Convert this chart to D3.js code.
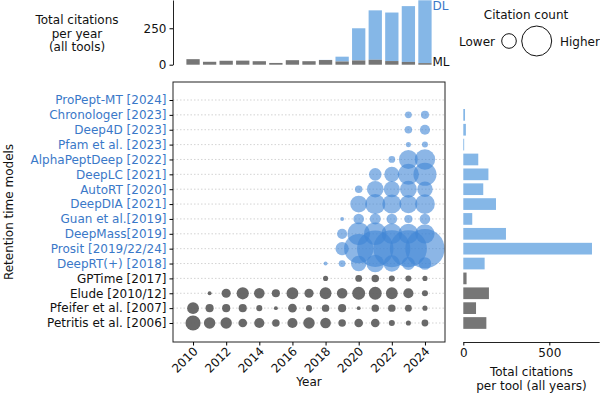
<!DOCTYPE html>
<html>
<head>
<meta charset="utf-8">
<script src="https://cdn.jsdelivr.net/npm/d3@7"></script>
<style>
  body { margin: 0; background: #fff; }
  text { font-family: "DejaVu Sans", sans-serif; }
</style>
</head>
<body>
<div id="chart"></div>
<script>
// years on the x axis
const years = [2010, 2011, 2012, 2013, 2014, 2015, 2016, 2017, 2018, 2019, 2020, 2021, 2022, 2023, 2024];
const yearTicks = [2010, 2012, 2014, 2016, 2018, 2020, 2022, 2024];

// models, top to bottom, and whether they are deep learning (DL) or classic ML
const models = [
  "ProPept-MT [2024]", "Chronologer [2023]", "Deep4D [2023]", "Pfam et al. [2023]",
  "AlphaPeptDeep [2022]", "DeepLC [2021]", "AutoRT [2020]", "DeepDIA [2021]",
  "Guan et al.[2019]", "DeepMass[2019]", "Prosit [2019/22/24]", "DeepRT(+) [2018]",
  "GPTime [2017]", "Elude [2010/12]", "Pfeifer et al. [2007]", "Petritis et al. [2006]"
];
const modelType = ["DL", "DL", "DL", "DL", "DL", "DL", "DL", "DL", "DL", "DL", "DL", "DL", "ML", "ML", "ML", "ML"];

// citations per year (2010..2024), one array per model, same order as models
const citations = [
  [0, 0, 0, 0, 0, 0, 0, 0, 0, 0, 0, 0, 0, 0, 0],
  [0, 0, 0, 0, 0, 0, 0, 0, 0, 0, 0, 0, 0, 4, 6],
  [0, 0, 0, 0, 0, 0, 0, 0, 0, 0, 0, 0, 0, 5, 10],
  [0, 0, 0, 0, 0, 0, 0, 0, 0, 0, 0, 0, 0, 2, 3],
  [0, 0, 0, 0, 0, 0, 0, 0, 0, 0, 0, 0, 4, 38, 45],
  [0, 0, 0, 0, 0, 0, 0, 0, 0, 0, 0, 16, 24, 48, 58],
  [0, 0, 0, 0, 0, 0, 0, 0, 0, 0, 5, 29, 27, 30, 25],
  [0, 0, 0, 0, 0, 0, 0, 0, 0, 0, 30, 44, 39, 35, 42],
  [0, 0, 0, 0, 0, 0, 0, 0, 0, 1, 11, 12, 11, 6, 11],
  [0, 0, 0, 0, 0, 0, 0, 0, 0, 10, 55, 55, 45, 43, 40],
  [0, 0, 0, 0, 0, 0, 0, 0, 0, 18, 95, 150, 155, 155, 175],
  [0, 0, 0, 0, 0, 0, 0, 0, 1, 4, 25, 33, 28, 17, 16],
  [0, 0, 0, 0, 0, 0, 0, 0, 2, 0, 4, 5, 3, 3, 2],
  [0, 1, 8, 15, 11, 6, 14, 8, 14, 11, 17, 17, 14, 10, 3],
  [14, 6, 6, 6, 3, 1, 7, 3, 5, 6, 1, 5, 5, 4, 2],
  [24, 13, 13, 7, 10, 5, 10, 13, 11, 5, 7, 7, 3, 2, 4]
];

// legend sizes (lower / higher)
const legendValues = [22, 100];

const width = 600, height = 397;
const blue = "#3f86d6", gray = "#5c5c5c";
const blueBar = "#85b7e7", grayBar = "#767676";
const labelBlue = "#3a78c8";
const fs = "12px";

const svg = d3.select("#chart").append("svg")
    .attr("width", width)
    .attr("height", height)
    .style("font-family", "DejaVu Sans, sans-serif")
    .style("font-size", fs);

// main panel geometry
const main = { left: 173, right: 445, top: 82, bottom: 342 };

const x = d3.scaleLinear()
    .domain([2008.79, 2025.21])
    .range([main.left, main.right]);

const y = d3.scalePoint()
    .domain(models)
    .range([100, 323]);

const r = d3.scaleSqrt()
    .domain([0, 175])
    .range([0.5, 0.5 + Math.sqrt(2.1 * 175)]);

// flatten cells
const cells = [];
citations.forEach((row, i) => {
    row.forEach((v, j) => {
        if (v > 0) cells.push({ model: models[i], type: modelType[i], year: years[j], value: v });
    });
});

// grid lines
svg.append("g")
    .selectAll("line")
    .data(models)
    .enter().append("line")
    .attr("x1", main.left)
    .attr("x2", main.right)
    .attr("y1", d => y(d))
    .attr("y2", d => y(d))
    .attr("stroke", "#c8c8c8")
    .attr("stroke-width", 0.8)
    .attr("stroke-dasharray", "1.5,2");

svg.append("clipPath")
    .attr("id", "clip")
    .append("rect")
    .attr("x", main.left)
    .attr("y", main.top)
    .attr("width", main.right - main.left)
    .attr("height", main.bottom - main.top);

svg.append("g")
    .attr("clip-path", "url(#clip)")
    .selectAll("circle")
    .data(cells)
    .enter().append("circle")
    .attr("cx", d => x(d.year))
    .attr("cy", d => y(d.model))
    .attr("r", d => r(d.value))
    .attr("fill", d => d.type === "DL" ? blue : gray)
    .attr("fill-opacity", d => d.type === "DL" ? 0.6 : 0.92);

// frame
svg.append("rect")
    .attr("x", main.left)
    .attr("y", main.top)
    .attr("width", main.right - main.left)
    .attr("height", main.bottom - main.top)
    .attr("fill", "none")
    .attr("stroke", "#222")
    .attr("stroke-width", 1);

// left axis with model names
const yAxis = svg.append("g")
    .attr("transform", `translate(${main.left},0)`)
    .call(d3.axisLeft(y).tickSize(3.5).tickPadding(3));
yAxis.select(".domain").remove();
yAxis.selectAll("text")
    .style("font-size", fs)
    .attr("fill", (d, i) => modelType[i] === "DL" ? labelBlue : "#111");

// bottom axis with years
const xAxis = svg.append("g")
    .attr("transform", `translate(0,${main.bottom})`)
    .call(d3.axisBottom(x).tickValues(yearTicks).tickFormat(d3.format("d")).tickSize(3.5));
xAxis.select(".domain").remove();
xAxis.selectAll("text")
    .style("font-size", fs)
    .attr("fill", "#111")
    .attr("x", 0).attr("y", 0).attr("dy", 0)
    .attr("transform", "translate(5,10) rotate(-45)")
    .style("text-anchor", "end");

svg.append("text")
    .attr("x", (main.left + main.right) / 2)
    .attr("y", 386)
    .attr("text-anchor", "middle")
    .attr("fill", "#111")
    .text("Year");

svg.append("text")
    .attr("transform", "translate(13,212) rotate(-90)")
    .attr("text-anchor", "middle")
    .attr("fill", "#111")
    .text("Retention time models");

// top panel: citations per year, ML at bottom, DL stacked on top
const mlYear = years.map((yr, j) => d3.sum(citations.filter((c, i) => modelType[i] === "ML"), c => c[j]));
const dlYear = years.map((yr, j) => d3.sum(citations.filter((c, i) => modelType[i] === "DL"), c => c[j]));

const yTop = d3.scaleLinear()
    .domain([0, 444])
    .range([64.7, 0]);
const barW = 13.3;

svg.append("g")
    .selectAll("rect")
    .data(years)
    .enter().append("rect")
    .attr("x", d => x(d) - barW / 2)
    .attr("width", barW)
    .attr("y", (d, j) => yTop(mlYear[j] + dlYear[j]))
    .attr("height", (d, j) => yTop(mlYear[j]) - yTop(mlYear[j] + dlYear[j]))
    .attr("fill", blueBar);

svg.append("g")
    .selectAll("rect")
    .data(years)
    .enter().append("rect")
    .attr("x", d => x(d) - barW / 2)
    .attr("width", barW)
    .attr("y", (d, j) => yTop(mlYear[j]))
    .attr("height", (d, j) => yTop(0) - yTop(mlYear[j]))
    .attr("fill", grayBar);

const topAxis = svg.append("g")
    .attr("transform", `translate(${main.left},0)`)
    .call(d3.axisLeft(yTop).tickValues([0, 250]).tickSize(3.5).tickSizeOuter(0).tickPadding(3));
topAxis.select(".domain").attr("stroke", "#222");
topAxis.selectAll("text").style("font-size", fs).attr("fill", "#111");

svg.append("text")
    .attr("x", 432.5).attr("y", 10)
    .attr("fill", labelBlue)
    .text("DL");
svg.append("text")
    .attr("x", 432.5).attr("y", 66)
    .attr("fill", "#111")
    .text("ML");

const topTitle = svg.append("text")
    .attr("text-anchor", "middle")
    .attr("fill", "#111");
["Total citations", "per year", "(all tools)"].forEach((t, i) => {
    topTitle.append("tspan")
        .attr("x", 77)
        .attr("y", 24 + i * 13.5)
        .text(t);
});

// right panel: total citations per tool
const perTool = citations.map(c => d3.sum(c));
const xRight = d3.scaleLinear()
    .domain([0, 790])
    .range([463.3, 599.2]);
const barH = 11.7;

svg.append("g")
    .selectAll("rect")
    .data(models)
    .enter().append("rect")
    .attr("x", xRight(0))
    .attr("y", d => y(d) - barH / 2)
    .attr("width", (d, i) => xRight(perTool[i]) - xRight(0))
    .attr("height", barH)
    .attr("fill", (d, i) => modelType[i] === "DL" ? blueBar : grayBar);

const rightAxis = svg.append("g")
    .attr("transform", `translate(0,${main.bottom})`)
    .call(d3.axisBottom(xRight).tickValues([0, 500]).tickSize(3.5).tickSizeOuter(0).tickPadding(3));
rightAxis.select(".domain").attr("stroke", "#222");
rightAxis.selectAll("text").style("font-size", fs).attr("fill", "#111");

const rightTitle = svg.append("text")
    .attr("text-anchor", "middle")
    .attr("fill", "#111");
["Total citations", "per tool (all years)"].forEach((t, i) => {
    rightTitle.append("tspan")
        .attr("x", 531.5)
        .attr("y", 376 + i * 13.5)
        .text(t);
});

// size legend
svg.append("text")
    .attr("x", 526).attr("y", 18.5)
    .attr("text-anchor", "middle")
    .attr("fill", "#111")
    .text("Citation count");

svg.append("g")
    .selectAll("circle")
    .data(legendValues)
    .enter().append("circle")
    .attr("cx", (d, i) => i === 0 ? 509 : 536.7)
    .attr("cy", 41)
    .attr("r", d => r(d))
    .attr("fill", "none")
    .attr("stroke", "#111")
    .attr("stroke-width", 1);

svg.append("text")
    .attr("x", 495).attr("y", 45.5)
    .attr("text-anchor", "end")
    .attr("fill", "#111")
    .text("Lower");
svg.append("text")
    .attr("x", 560).attr("y", 45.5)
    .attr("fill", "#111")
    .text("Higher");
</script>
</body>
</html>
